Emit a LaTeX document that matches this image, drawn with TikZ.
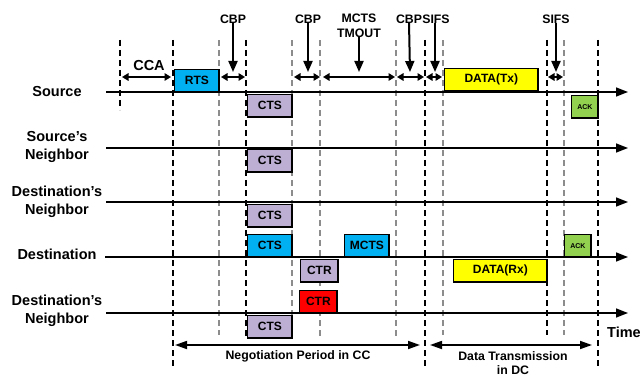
\documentclass[tikz,border=0pt]{standalone}
\usepackage{fontspec}
\setmainfont{Liberation Sans}
\usetikzlibrary{arrows.meta}
\definecolor{ctsblue}{HTML}{00B0F0}
\definecolor{lavender}{HTML}{BCAFD3}
\definecolor{ackgreen}{HTML}{92D050}
\definecolor{datayellow}{HTML}{FFFF00}
\definecolor{ctrred}{HTML}{FF0000}
\begin{document}
\begin{tikzpicture}[x=1pt,y=-1pt,
  lbl/.style={font=\fontsize{14.5}{18}\selectfont\bfseries, align=center, inner sep=0pt},
  tag/.style={font=\fontsize{12.3}{15}\selectfont\bfseries, align=center, inner sep=0pt},
  note/.style={font=\fontsize{12.3}{14}\selectfont\bfseries, align=center, inner sep=0pt},
  box/.style={draw=black, line width=1.6pt, inner sep=0pt, anchor=north west,
              minimum height=22.5pt, font=\fontsize{12}{14}\selectfont\bfseries},
  axis/.style={line width=1.5pt, -{Triangle[length=12pt,width=9pt]}},
  guide/.style={line width=1.2pt, dash pattern=on 6pt off 4pt},
  guidegray/.style={guide, line width=1.4pt, draw=black!45},
  span/.style={line width=2pt, {Triangle[length=6.5pt,width=7.5pt]}-{Triangle[length=6.5pt,width=7.5pt]}},
  period/.style={line width=1.7pt, {Triangle[length=12pt,width=8pt]}-{Triangle[length=12pt,width=8pt]}},
  down/.style={line width=2pt, -{Triangle[length=11pt,width=9pt]}},
]
\useasboundingbox (0,0) rectangle (640,377);

% vertical guide lines
\foreach \x/\b in {120/110, 173/368, 246/338, 425/368, 547/335, 598/368}
  \draw[guide] (\x,40) -- (\x,\b);
\foreach \x/\b in {219/335, 292/338, 320/337, 396/337, 443/335, 564/335}
  \draw[guidegray] (\x,40) -- (\x,\b);

% row labels
\node[lbl] (lsrc) at (57,92) {Source};
\node[lbl] (lsn)  at (57,147) {Source’s\\Neighbor};
\node[lbl] (ldn1) at (57,202) {Destination’s\\Neighbor};
\node[lbl] (ldst) at (57,254) {Destination};
\node[lbl] (ldn2) at (57,311) {Destination’s\\Neighbor};
\node[lbl] (ltime) at (624,332) {Time};

% time axes
\coordinate (s0) at (106,92);  \coordinate (s1) at (628,92);
\coordinate (n0) at (106,148); \coordinate (n1) at (628,148);
\coordinate (m0) at (106,202); \coordinate (m1) at (628,202);
\coordinate (d0) at (105,257); \coordinate (d1) at (628,257);
\coordinate (e0) at (106,313); \coordinate (e1) at (628,313);
\foreach \a/\b in {s0/s1, n0/n1, m0/m1, d0/d1, e0/e1}
  \draw[axis] (\a) -- (\b);

% frames on the source axis
\node[box, fill=ctsblue, minimum width=44.5pt] (rts) at (173.8,68.8) {RTS};
\node[box, fill=lavender, minimum width=44.5pt] (cts1) at (246.8,93.8) {CTS};
\node[box, fill=datayellow, minimum width=93.5pt] (dtx) at (443.8,67.8) {DATA(Tx)};
\node[box, fill=ackgreen, minimum width=26.5pt, font=\fontsize{7}{8}\selectfont\bfseries] (ack1) at (570.8,94.8) {ACK};

% frames on the neighbour axes
\node[box, fill=lavender, minimum width=44.5pt] (cts2) at (246.8,148.8) {CTS};
\node[box, fill=lavender, minimum width=44.5pt] (cts3) at (246.8,203.8) {CTS};

% frames on the destination axis
\node[box, fill=ctsblue, minimum width=44.5pt] (cts4) at (246.8,233.8) {CTS};
\node[box, fill=ctsblue, minimum width=44.5pt] (mcts) at (343.8,233.8) {MCTS};
\node[box, fill=lavender, minimum width=37.5pt] (ctr1) at (299.8,258.8) {CTR};
\node[box, fill=datayellow, minimum width=93.5pt] (drx) at (452.8,258.8) {DATA(Rx)};
\node[box, fill=ackgreen, minimum width=26.5pt, font=\fontsize{7}{8}\selectfont\bfseries] (ack2) at (563.8,233.8) {ACK};

% frames on the second destination-neighbour axis
\node[box, fill=ctrred, minimum width=37.5pt] (ctr2) at (298.8,289.8) {CTR};
\node[box, fill=lavender, minimum width=44.5pt] (cts5) at (246.8,314.8) {CTS};

% interval annotations
\node[lbl] (cca) at (149,66) {CCA};
\coordinate (cca0) at (122,77); \coordinate (cca1) at (171,77);
\draw[span] (cca0) -- (cca1);

\node[tag] (cbp1) at (233,19) {CBP};
\coordinate (cbp1a) at (221,77); \coordinate (cbp1b) at (245,77);
\coordinate (cbp1t) at (233,72);
\draw[span] (cbp1a) -- (cbp1b);
\draw[down] (cbp1.south) ++(0,-1) -- (cbp1t);

\node[tag] (cbp2) at (308,19) {CBP};
\coordinate (cbp2a) at (294,77); \coordinate (cbp2b) at (320,77);
\coordinate (cbp2t) at (308,72);
\draw[span] (cbp2a) -- (cbp2b);
\draw[down] (cbp2.south) ++(0,-1) -- (cbp2t);

\node[tag] (mto) at (359,26) {MCTS\\TMOUT};
\coordinate (mtoa) at (323,77); \coordinate (mtob) at (395,77);
\coordinate (mtot) at (359,72);
\draw[span] (mtoa) -- (mtob);
\draw[down] (mto.south) ++(0,-1) -- (mtot);

\node[tag] (cbp3) at (409,19) {CBP};
\coordinate (cbp3a) at (397,77); \coordinate (cbp3b) at (424,77);
\coordinate (cbp3t) at (410,72);
\draw[span] (cbp3a) -- (cbp3b);
\draw[down] (cbp3.south) ++(0,-1) -- (cbp3t);

\node[tag] (sifs1) at (436,19) {SIFS};
\coordinate (sifs1a) at (426,77); \coordinate (sifs1b) at (442,77);
\coordinate (sifs1t) at (435,72);
\draw[span] (sifs1a) -- (sifs1b);
\draw[down] (sifs1.south) ++(-1,-1) -- (sifs1t);

\node[tag] (sifs2) at (556,19) {SIFS};
\coordinate (sifs2a) at (548,77); \coordinate (sifs2b) at (563,77);
\coordinate (sifs2t) at (556,72);
\draw[span] (sifs2a) -- (sifs2b);
\draw[down] (sifs2.south) ++(0,-1) -- (sifs2t);

% periods
\coordinate (neg0) at (175,345); \coordinate (neg1) at (420,345);
\draw[period] (neg0) -- (neg1);
\node[note] (negl) at (298,356) {Negotiation Period in CC};

\coordinate (dat0) at (430,345); \coordinate (dat1) at (592,345);
\draw[period] (dat0) -- (dat1);
\node[note] (datl) at (513,363) {Data Transmission\\in DC};
\end{tikzpicture}
\end{document}
